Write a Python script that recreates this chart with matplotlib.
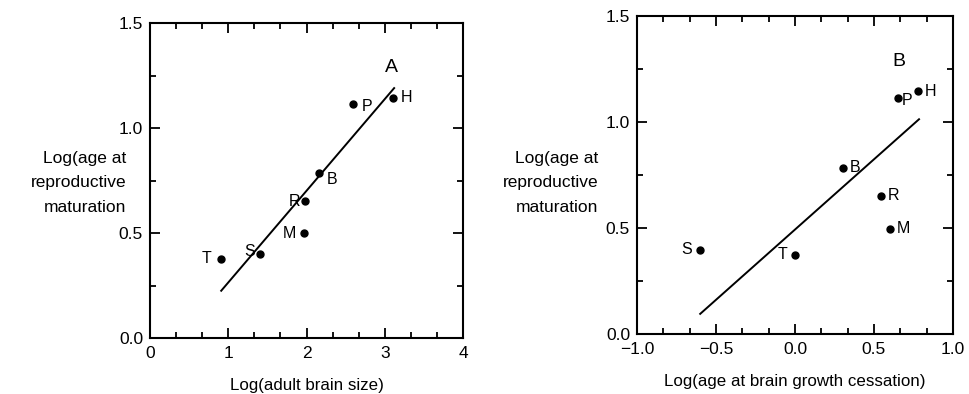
import matplotlib
matplotlib.use("Agg")
import matplotlib.pyplot as plt
from matplotlib.ticker import MultipleLocator

plt.rcParams['font.family'] = ['Liberation Sans', 'DejaVu Sans']

# Panel A
labels_a = ['T', 'S', 'M', 'R', 'B', 'P', 'H']
brain_size = [0.91, 1.40, 1.97, 1.98, 2.16, 2.60, 3.11]
age_repro_a = [0.378, 0.40, 0.50, 0.652, 0.785, 1.112, 1.144]
fit_a_x = [0.91, 3.12]
fit_a_y = [0.225, 1.19]

# Panel B
labels_b = ['S', 'T', 'B', 'R', 'M', 'P', 'H']
growth_cess = [-0.60, 0.0, 0.305, 0.547, 0.604, 0.655, 0.781]
age_repro_b = [0.397, 0.375, 0.785, 0.653, 0.497, 1.112, 1.145]
fit_b_x = [-0.60, 0.785]
fit_b_y = [0.095, 1.013]

W, H = 969, 394
fig = plt.figure(figsize=(W / 100, H / 100), dpi=100)

def style(ax):
    for s in ax.spines.values():
        s.set_linewidth(1.5)
    ax.tick_params(which='both', direction='in', top=True, right=True,
                   labelsize=12.5, width=1.3)
    ax.tick_params(axis='x', which='major', pad=6)
    ax.tick_params(axis='y', which='major', pad=5)
    ax.tick_params(which='major', length=7)
    ax.tick_params(which='minor', length=4)

ylab = "Log(age at\nreproductive\nmaturation"

# Left axes
axA = fig.add_axes([150 / W, 1 - 338 / H, 313 / W, 315 / H])
axA.plot(fit_a_x, fit_a_y, color='black', lw=1.4)
axA.scatter(brain_size, age_repro_a, s=25, color='black', zorder=3)
offs_a = {'T': (-0.12, 0.0, 'right'), 'S': (-0.06, 0.01, 'right'),
          'M': (-0.1, 0.0, 'right'), 'R': (-0.06, 0.0, 'right'),
          'B': (0.1, -0.03, 'left'), 'P': (0.1, -0.01, 'left'),
          'H': (0.1, 0.0, 'left')}
for lab, x, y in zip(labels_a, brain_size, age_repro_a):
    dx, dy, ha = offs_a[lab]
    axA.text(x + dx, y + dy, lab, ha=ha, va='center', fontsize=11.5)
axA.text(3.09, 1.29, 'A', ha='center', va='center', fontsize=14)
axA.set_xlim(0, 4)
axA.set_ylim(0, 1.5)
axA.xaxis.set_major_locator(MultipleLocator(1))
axA.xaxis.set_minor_locator(MultipleLocator(1 / 3))
axA.yaxis.set_major_locator(MultipleLocator(0.5))
axA.yaxis.set_minor_locator(MultipleLocator(0.25))
style(axA)
axA.yaxis.set_major_formatter(plt.FuncFormatter(lambda v, p: f'{v:.1f}'))
axA.set_xlabel('Log(adult brain size)', fontsize=12.2, labelpad=12)
fig.text(126 / W, 1 - 183 / H, ylab, ha='right', va='center', fontsize=12.5,
         linespacing=1.75)

# Right axes
axB = fig.add_axes([637 / W, 1 - 334 / H, 316 / W, 318 / H])
axB.plot(fit_b_x, fit_b_y, color='black', lw=1.4)
axB.scatter(growth_cess, age_repro_b, s=25, color='black', zorder=3)
offs_b = {'S': (-0.05, 0.0, 'right'), 'T': (-0.05, 0.0, 'right'),
          'B': (0.04, 0.0, 'left'), 'R': (0.04, 0.0, 'left'),
          'M': (0.04, 0.0, 'left'), 'P': (0.02, -0.01, 'left'),
          'H': (0.04, 0.0, 'left')}
for lab, x, y in zip(labels_b, growth_cess, age_repro_b):
    dx, dy, ha = offs_b[lab]
    axB.text(x + dx, y + dy, lab, ha=ha, va='center', fontsize=11.5)
axB.text(0.657, 1.285, 'B', ha='center', va='center', fontsize=14)
axB.set_xlim(-1, 1)
axB.set_ylim(0, 1.5)
axB.xaxis.set_major_locator(MultipleLocator(0.5))
axB.xaxis.set_minor_locator(MultipleLocator(1 / 6))
axB.yaxis.set_major_locator(MultipleLocator(0.5))
axB.yaxis.set_minor_locator(MultipleLocator(0.25))
style(axB)
axB.xaxis.set_major_formatter(plt.FuncFormatter(lambda v, p: f'{v:.1f}'.replace('-', '\u2212')))
axB.yaxis.set_major_formatter(plt.FuncFormatter(lambda v, p: f'{v:.1f}'))
axB.set_xlabel('Log(age at brain growth cessation)', fontsize=12.2, labelpad=12)
fig.text(598 / W, 1 - 183 / H, ylab, ha='right', va='center', fontsize=12.5,
         linespacing=1.75)

fig.savefig('out.png', dpi=100)
